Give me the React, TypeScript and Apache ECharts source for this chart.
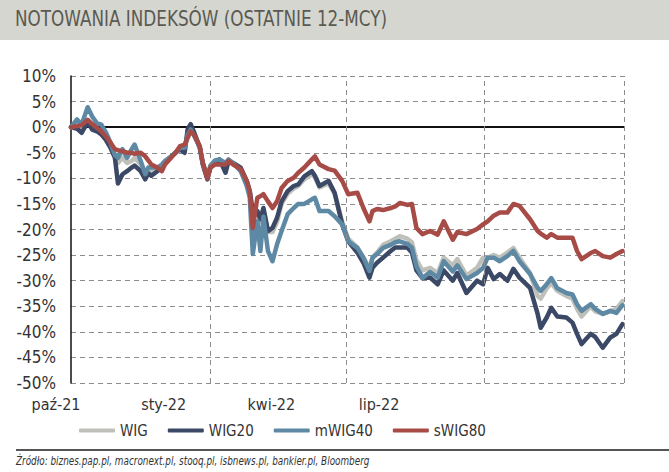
import React, { useEffect, useRef } from "react";
import * as echarts from "echarts";

const titleText = "NOTOWANIA INDEKSÓW (OSTATNIE 12-MCY)";
const sourceText = "Źródło: biznes.pap.pl, macronext.pl, stooq.pl, isbnews.pl, bankier.pl, Bloomberg";
const tickLabels = ["paź-21", "sty-22", "kwi-22", "lip-22"];
const gridDates = ["2022-01-01", "2022-04-01", "2022-07-01", "2022-10-01"];
const seriesNames = ["WIG", "WIG20", "mWIG40", "sWIG80"];

const dates = [
  "2021-10-01", "2021-10-05", "2021-10-08", "2021-10-12", "2021-10-15", "2021-10-18", "2021-10-21", "2021-10-24",
  "2021-10-27", "2021-10-30", "2021-11-01", "2021-11-04", "2021-11-07", "2021-11-10", "2021-11-12", "2021-11-16",
  "2021-11-19", "2021-11-21", "2021-11-23", "2021-11-27", "2021-11-30", "2021-12-02", "2021-12-05", "2021-12-09",
  "2021-12-12", "2021-12-15", "2021-12-17", "2021-12-19", "2021-12-21", "2021-12-25", "2021-12-27", "2021-12-30",
  "2022-01-01", "2022-01-04", "2022-01-07", "2022-01-11", "2022-01-13", "2022-01-16", "2022-01-21", "2022-01-25",
  "2022-01-27", "2022-01-29", "2022-02-01", "2022-02-03", "2022-02-05", "2022-02-08", "2022-02-11", "2022-02-14",
  "2022-02-17", "2022-02-21", "2022-02-25", "2022-02-28", "2022-03-04", "2022-03-09", "2022-03-11", "2022-03-14",
  "2022-03-20", "2022-03-24", "2022-03-29", "2022-04-02", "2022-04-08", "2022-04-12", "2022-04-16", "2022-04-18",
  "2022-04-21", "2022-04-25", "2022-04-30", "2022-05-03", "2022-05-06", "2022-05-11", "2022-05-14", "2022-05-17",
  "2022-05-21", "2022-05-26", "2022-05-31", "2022-06-04", "2022-06-10", "2022-06-13", "2022-06-19", "2022-06-26",
  "2022-06-30", "2022-07-03", "2022-07-07", "2022-07-11", "2022-07-16", "2022-07-20", "2022-07-24", "2022-07-31",
  "2022-08-05", "2022-08-07", "2022-08-11", "2022-08-14", "2022-08-18", "2022-08-24", "2022-08-28", "2022-08-31",
  "2022-09-03", "2022-09-09", "2022-09-12", "2022-09-17", "2022-09-22", "2022-09-26", "2022-09-30",
];

const wig = [
  0, 0.3, -0.5, 1.5, 0.3, -0.3, -1.0, -2.0, -3.5, -5.5, -7.0, -6.0, -7.0, -6.6, -6.0, -7.3,
  -9.0, -8.0, -8.5, -8.0, -7.5, -6.8, -6.0, -5.0, -4.0, -4.2, -1.0, 0.0, -1.0, -4.0, -7.2, -10.0,
  -7.8, -7.0, -6.5, -8.0, -6.5, -7.0, -8.0, -10.8, -12.8, -18.0, -16.5, -18.5, -16.0, -20.5, -20.5, -18.5,
  -15.0, -13.0, -12.0, -11.5, -10.2, -9.2, -9.8, -11.8, -11.0, -13.0, -18.5, -21.8, -23.5, -25.5, -27.5, -25.5,
  -24.5, -23.0, -22.3, -21.8, -21.3, -21.8, -22.5, -26.0, -28.0, -27.5, -28.5, -25.5, -27.0, -25.8, -29.0, -27.5,
  -25.5, -25.5, -25.0, -25.5, -24.5, -23.6, -25.5, -28.5, -33.0, -33.5, -31.5, -30.5, -32.0, -33.0, -33.5, -35.5,
  -37.0, -35.0, -36.0, -36.5, -36.0, -35.5, -34.0,
];

const wig20 = [
  0, -0.3, -1.1, 1.0, -0.5, -0.8, -1.4, -2.5, -4.0, -6.0, -11.0, -9.2, -8.6, -7.9, -7.5, -8.6,
  -10.2, -9.0, -9.5, -8.6, -8.0, -7.0, -6.0, -5.0, -4.3, -5.0, -0.4, 0.6, -0.8, -4.0, -7.3, -10.2,
  -7.9, -7.0, -6.3, -8.9, -6.6, -7.0, -7.9, -10.5, -12.5, -16.5, -16.4, -18.0, -15.8, -20.3, -19.7, -17.7,
  -14.5, -12.5, -11.5, -11.2, -9.6, -8.6, -9.5, -11.5, -10.5, -12.8, -19.0, -22.3, -24.5, -26.5, -29.4, -27.5,
  -26.5, -25.5, -24.2, -23.5, -23.5, -23.5, -24.5, -28.0, -29.5, -29.4, -30.7, -28.0, -30.0, -28.5, -32.4, -30.0,
  -30.7, -27.5, -29.7, -28.7, -30.0, -27.7, -29.4, -31.4, -36.5, -39.2, -37.2, -35.3, -37.0, -37.2, -38.2, -40.4,
  -42.4, -40.4, -41.0, -43.1, -41.1, -40.4, -38.5,
];

const mwig40 = [
  0, 1.5, 0.5, 3.9, 2.1, 0.8, 0.5, -1.0, -3.0, -5.5, -6.0, -4.3, -6.0, -4.3, -3.4, -6.6,
  -9.2, -7.9, -7.9, -7.9, -7.3, -6.6, -6.0, -5.0, -4.0, -4.0, -1.5, -0.5, -1.5, -4.0, -7.0, -9.5,
  -7.5, -6.5, -6.3, -7.0, -6.3, -7.0, -8.6, -11.5, -13.8, -24.8, -18.4, -24.2, -17.5, -24.2, -26.2, -22.9,
  -20.3, -17.0, -15.8, -15.0, -15.0, -14.1, -13.8, -16.4, -16.4, -17.4, -19.0, -22.3, -23.6, -25.5, -28.1, -25.5,
  -24.8, -23.6, -23.0, -22.5, -22.3, -22.8, -23.5, -27.2, -29.5, -28.3, -29.4, -26.2, -28.2, -27.0, -29.7, -28.5,
  -27.5, -25.5, -25.5, -26.2, -25.2, -24.2, -26.2, -28.7, -31.4, -32.0, -30.7, -29.5, -31.5, -32.4, -32.7, -34.6,
  -35.9, -34.6, -35.5, -36.5, -35.9, -36.3, -34.8,
];

const swig80 = [
  0, 0.2, 0.4, 1.4, 0.6, -0.1, -0.8, -1.8, -3.0, -4.3, -4.5, -4.7, -5.0, -5.0, -5.2, -5.0,
  -5.7, -6.5, -7.3, -7.9, -8.6, -7.3, -6.3, -5.0, -3.7, -3.4, -2.1, -0.8, -1.4, -3.7, -7.0, -10.0,
  -7.9, -7.3, -7.3, -7.3, -6.6, -7.3, -8.2, -10.5, -12.5, -19.7, -13.8, -13.5, -13.1, -14.5, -15.8, -14.5,
  -11.9, -10.5, -9.9, -8.9, -7.9, -6.3, -5.7, -7.3, -8.2, -8.5, -10.5, -13.1, -12.8, -15.8, -18.4, -16.4,
  -16.0, -16.2, -15.8, -15.5, -14.8, -15.2, -15.0, -19.7, -20.9, -20.3, -21.0, -18.4, -22.0, -20.5, -20.9, -19.9,
  -19.0, -18.4, -17.3, -16.7, -16.7, -15.0, -15.4, -18.0, -20.3, -20.8, -21.6, -20.9, -21.6, -21.6, -21.6, -24.2,
  -25.8, -24.6, -24.2, -25.2, -25.5, -24.8, -24.2,
];

const seriesValues = [wig, wig20, mwig40, swig80];
const seriesColors = ["#bfc0ba", "#3b4966", "#5e89a5", "#a74b47"];

const FONT = "'Liberation Sans Narrow', 'DejaVu Sans Condensed', 'Roboto Condensed', 'Liberation Sans', sans-serif";

export default function App() {
  const ref = useRef<HTMLDivElement>(null);

  useEffect(() => {
    if (!ref.current) return;
    const chart = echarts.init(ref.current, null, { renderer: "svg" });

    const lineSeries = seriesNames.map((name, i) => ({
      name,
      type: "line",
      data: dates.map((d, k) => [d, seriesValues[i][k]]),
      showSymbol: false,
      symbol: "none",
      z: 2 + i,
      lineStyle: { color: seriesColors[i], width: 4.5, join: "round", cap: "round" },
      itemStyle: { color: seriesColors[i] },
    }));

    chart.setOption({
      animation: false,
      backgroundColor: "#ffffff",
      textStyle: { fontFamily: FONT },
      graphic: [
        { type: "rect", x: 0, y: 0, z: -10, shape: { width: 669, height: 40 }, style: { fill: "#d6d6d0" } },
        {
          type: "text",
          x: 15,
          y: 18,
          scaleX: 0.85,
          style: {
            text: titleText,
            font: `22px ${FONT}`,
            fill: "#5a5a52",
            verticalAlign: "middle",
            align: "left",
          },
        },
        { type: "line", z: 1, shape: { x1: 16, y1: 450, x2: 669, y2: 450 }, style: { stroke: "#555555", lineWidth: 2 } },
        {
          type: "text",
          x: 16,
          y: 461,
          scaleX: 0.82,
          style: {
            text: sourceText,
            font: `italic 12px ${FONT}`,
            fill: "#333333",
            verticalAlign: "middle",
            align: "left",
          },
        },
      ],
      legend: {
        data: seriesNames,
        left: 74,
        top: 418,
        icon: "roundRect",
        itemWidth: 36,
        itemHeight: 4,
        itemGap: 20,
        textStyle: { fontFamily: FONT, fontSize: 15, color: "#333333" },
      },
      grid: [
        { left: 71, right: 45, top: 76, bottom: 89, containLabel: false },
        { left: 56, right: 290, top: 380, height: 10, containLabel: false },
      ],
      xAxis: [
        {
          type: "time",
          gridIndex: 0,
          min: "2021-10-01",
          max: "2022-10-01",
          axisLine: { show: true, onZero: true, lineStyle: { color: "#111111", width: 2 } },
          axisTick: { show: false },
          axisLabel: { show: false },
          splitLine: { show: false },
        },
        {
          type: "category",
          gridIndex: 1,
          data: tickLabels,
          boundaryGap: false,
          axisLine: { show: false },
          axisTick: { show: false },
          splitLine: { show: false },
          axisLabel: { show: true, fontFamily: FONT, fontSize: 16, color: "#333333", margin: 6 },
        },
      ],
      yAxis: [
        {
          type: "value",
          gridIndex: 0,
          min: -50,
          max: 10,
          interval: 5,
          axisLine: { show: true, lineStyle: { color: "#111111", width: 1.5 } },
          axisTick: { show: false },
          axisLabel: { formatter: "{value}%", fontFamily: FONT, fontSize: 17, color: "#333333", margin: 15 },
          splitLine: { show: true, lineStyle: { color: "#8c8c8c", type: [5, 4], width: 1 } },
        },
        { type: "value", gridIndex: 1, show: false },
      ],
      series: [
        {
          type: "line",
          name: "grid",
          data: [],
          z: 1,
          silent: true,
          markLine: {
            silent: true,
            symbol: ["none", "none"],
            label: { show: false },
            lineStyle: { color: "#8c8c8c", type: [5, 4], width: 1 },
            data: gridDates.map((d) => ({ xAxis: d })),
          },
        },
        ...lineSeries,
      ],
    });

    return () => chart.dispose();
  }, []);

  return (
    <div
      ref={ref}
      style={{ position: "fixed", left: 0, top: 0, width: 669, height: 472 }}
    />
  );
}
